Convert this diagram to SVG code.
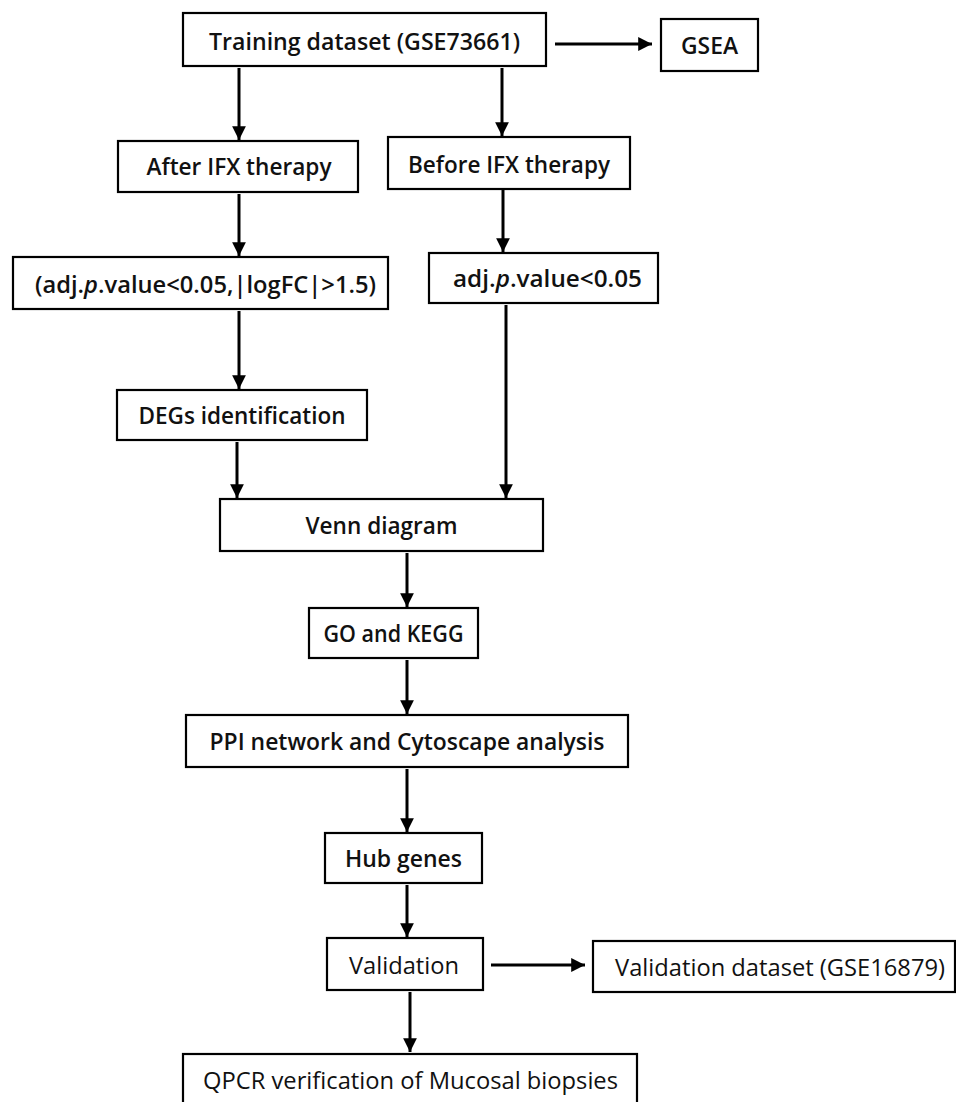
<svg xmlns="http://www.w3.org/2000/svg" width="956" height="1102" viewBox="0 0 956 1102">
<style>
.box{fill:#fff;stroke:#000;stroke-width:2.2}
.t{font-family:"Open Sans","Noto Sans","Liberation Sans",sans-serif;font-size:24px;font-weight:600;fill:#111;text-anchor:middle}
.n{font-weight:500}
.c{stroke:#000;stroke-width:3;fill:none;marker-end:url(#ah)}
</style>
<defs>
<marker id="ah" markerWidth="5" markerHeight="5" refX="4.6" refY="2.5" orient="auto" markerUnits="strokeWidth">
<path d="M0,0.2 L4.6,2.5 L0,4.8 Z" fill="#000"/>
</marker>
</defs>
<rect width="956" height="1102" fill="#fff"/>
<g id="connectors">
<line class="c" x1="555" y1="44" x2="652" y2="44"/>
<line class="c" x1="239" y1="68" x2="239" y2="140"/>
<line class="c" x1="502" y1="68" x2="502" y2="136"/>
<line class="c" x1="239" y1="194" x2="239" y2="256"/>
<line class="c" x1="503" y1="190" x2="503" y2="252"/>
<line class="c" x1="239" y1="311" x2="239" y2="389"/>
<line class="c" x1="237" y1="442" x2="237" y2="498"/>
<line class="c" x1="506" y1="305" x2="506" y2="498"/>
<line class="c" x1="407" y1="553" x2="407" y2="607"/>
<line class="c" x1="407" y1="660" x2="407" y2="714"/>
<line class="c" x1="407" y1="769" x2="407" y2="832"/>
<line class="c" x1="407" y1="885" x2="407" y2="937"/>
<line class="c" x1="410" y1="992" x2="410" y2="1052"/>
<line class="c" x1="491" y1="965" x2="585" y2="965"/>
</g>
<g id="n-training"><rect class="box" x="183" y="13" width="363" height="53"/><text class="t" x="364.5" y="50" textLength="311" lengthAdjust="spacingAndGlyphs">Training dataset (GSE73661)</text></g>
<g id="n-gsea"><rect class="box" x="661" y="19" width="97" height="52"/><text class="t" x="709.5" y="54" textLength="57" lengthAdjust="spacingAndGlyphs">GSEA</text></g>
<g id="n-after"><rect class="box" x="118" y="141" width="240" height="51"/><text class="t" x="239" y="175" textLength="185" lengthAdjust="spacingAndGlyphs">After IFX therapy</text></g>
<g id="n-before"><rect class="box" x="388" y="137" width="242" height="52"/><text class="t" x="509" y="172.5" textLength="202" lengthAdjust="spacingAndGlyphs">Before IFX therapy</text></g>
<g id="n-adj1"><rect class="box" x="13" y="257" width="375" height="52"/><text class="t" x="205.5" y="293" textLength="341" lengthAdjust="spacingAndGlyphs">(adj.<tspan font-style="italic">p</tspan>.value&lt;0.05,|logFC|&gt;1.5)</text></g>
<g id="n-adj2"><rect class="box" x="429" y="253" width="229" height="50"/><text class="t" x="547.5" y="287" textLength="189" lengthAdjust="spacingAndGlyphs">adj.<tspan font-style="italic">p</tspan>.value&lt;0.05</text></g>
<g id="n-degs"><rect class="box" x="117" y="390" width="250" height="50"/><text class="t" x="242" y="424" textLength="207" lengthAdjust="spacingAndGlyphs">DEGs identification</text></g>
<g id="n-venn"><rect class="box" x="220" y="499" width="323" height="52"/><text class="t" x="381.5" y="534" textLength="152" lengthAdjust="spacingAndGlyphs">Venn diagram</text></g>
<g id="n-go"><rect class="box" x="309" y="608" width="169" height="50"/><text class="t" x="393.5" y="642" textLength="140" lengthAdjust="spacingAndGlyphs">GO and KEGG</text></g>
<g id="n-ppi"><rect class="box" x="186" y="715" width="442" height="52"/><text class="t" x="407" y="750" textLength="395" lengthAdjust="spacingAndGlyphs">PPI network and Cytoscape analysis</text></g>
<g id="n-hub"><rect class="box" x="325" y="833" width="157" height="50"/><text class="t" x="403.5" y="867" textLength="117" lengthAdjust="spacingAndGlyphs">Hub genes</text></g>
<g id="n-validation"><rect class="box" x="327" y="938" width="156" height="52"/><text class="t n" x="404" y="974" textLength="110" lengthAdjust="spacingAndGlyphs">Validation</text></g>
<g id="n-vdataset"><rect class="box" x="593" y="941" width="362" height="51"/><text class="t n" x="780" y="976" textLength="330" lengthAdjust="spacingAndGlyphs">Validation dataset (GSE16879)</text></g>
<g id="n-qpcr"><rect class="box" x="183" y="1054" width="454" height="60"/><text class="t n" x="410.5" y="1089" textLength="415" lengthAdjust="spacingAndGlyphs">QPCR verification of Mucosal biopsies</text></g>
</svg>
